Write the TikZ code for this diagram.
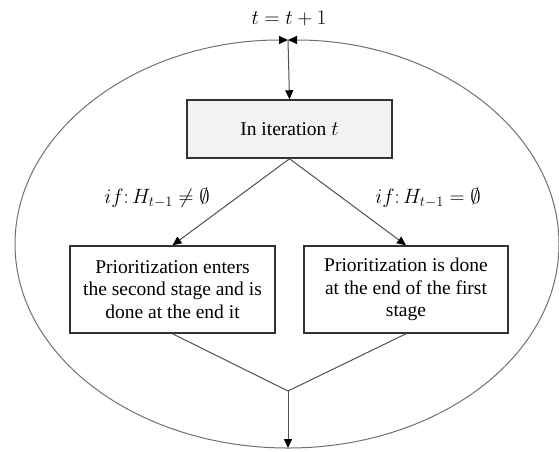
\documentclass[tikz,border=0pt]{standalone}
\usepackage{fontspec}
\setmainfont{Liberation Serif}
\usetikzlibrary{arrows.meta}
\definecolor{linegray}{HTML}{505050}
\definecolor{ellgray}{HTML}{707070}
\definecolor{boxline}{HTML}{333333}
\definecolor{boxfill}{HTML}{F2F2F2}
\tikzset{
  txt/.style={font=\fontsize{19.5}{22.5}\selectfont, inner sep=0pt},
  box/.style={txt, draw=boxline, line width=1.5pt, align=center},
  conn/.style={draw=linegray, line width=1pt},
  tip/.style={-{Triangle[length=9pt,width=8pt,color=black]}},
  arr/.style={conn, tip},
}
\begin{document}
\begin{tikzpicture}[x=1pt,y=-1pt]
\useasboundingbox (0,0) rectangle (559,451);
% ellipse halves meeting at the top
\coordinate (top) at (288,40);
\coordinate (bot) at (288,448);
\coordinate (join) at (288,391);
\draw[draw=ellgray, line width=1pt, tip]
  (bot) arc[start angle=270, end angle=90, x radius=273pt, y radius=204pt];
\draw[draw=ellgray, line width=1pt, tip]
  (bot) arc[start angle=-90, end angle=90, x radius=271pt, y radius=204pt];
\node[txt] (inc) at (289,18) {$t = t + 1$};
\node[box, fill=boxfill, minimum width=205pt, minimum height=58pt] (iter) at (289.5,129) {In iteration $t$};
\node[box, minimum width=205pt, minimum height=87pt] (left) at (172.5,289.5)
  {Prioritization enters\\the second stage and is\\done at the end it};
\node[box, minimum width=204pt, minimum height=87pt] (right) at (406,289.5)
  {Prioritization is done\\at the end of the first\\stage};
\node[txt] (lif) at (157,198) {$if\colon H_{t-1} \neq \emptyset$};
\node[txt] (rif) at (428,198) {$if\colon H_{t-1} = \emptyset$};
\draw[arr] (top) -- (iter.north);
\draw[arr] (iter.south) -- (left.north);
\draw[arr] (iter.south) -- (right.north);
\draw[conn] (left.south) -- (join);
\draw[conn] (right.south) -- (join);
\draw[arr] (join) -- (bot);
\end{tikzpicture}
\end{document}
